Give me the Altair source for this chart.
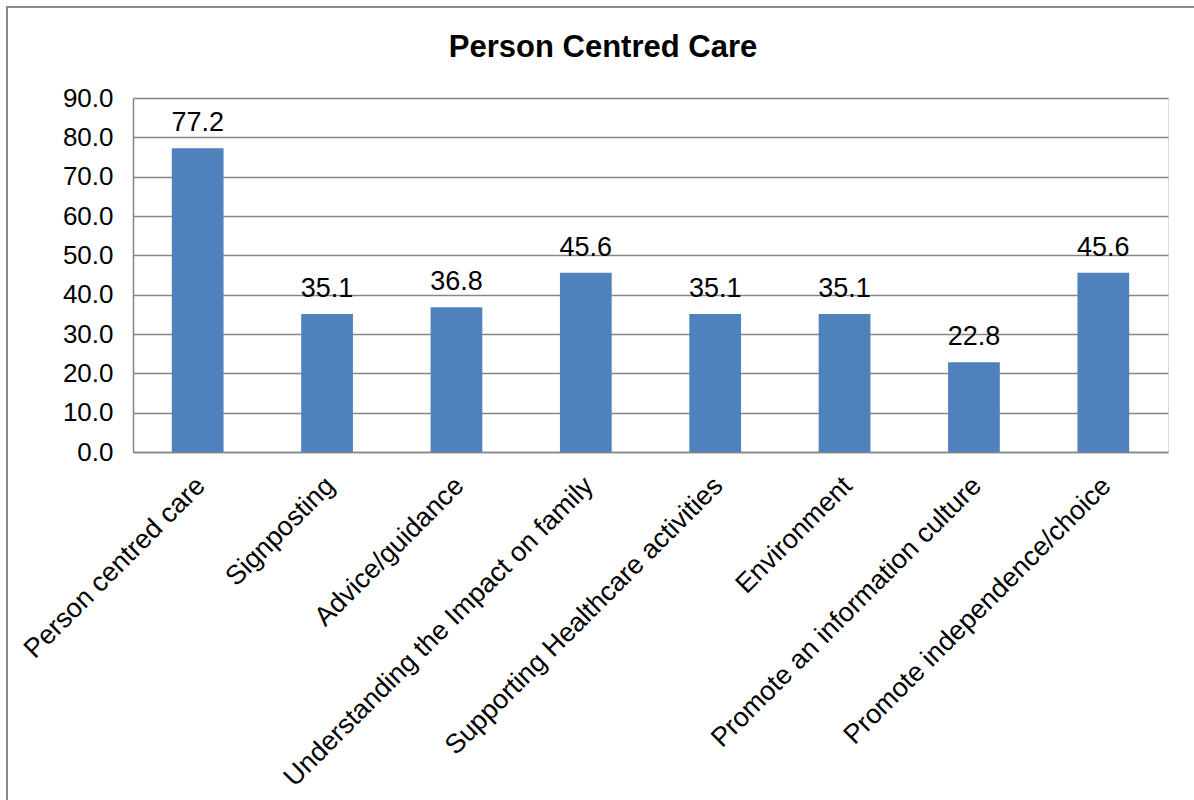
import altair as alt
import pandas as pd

# Survey results: share of responses per care theme (%)
title_text = "Person Centred Care"
categories = [
    "Person centred care",
    "Signposting",
    "Advice/guidance",
    "Understanding the Impact on family",
    "Supporting Healthcare activities",
    "Environment",
    "Promote an information culture",
    "Promote independence/choice",
]
values = [77.2, 35.1, 36.8, 45.6, 35.1, 35.1, 22.8, 45.6]
y_ticks = [0, 10, 20, 30, 40, 50, 60, 70, 80, 90]

df = pd.DataFrame({"category": categories, "value": values})
title_df = pd.DataFrame({"title": [title_text]})

FONT = "Liberation Sans"
GRID = "#868686"
BAR = "#4F81BD"

x_enc = alt.X(
    "category:N",
    sort=categories,
    scale=alt.Scale(paddingInner=0.6, paddingOuter=0.3),
    axis=alt.Axis(
        title=None,
        labelAngle=-45,
        labelAlign="right",
        labelBaseline="alphabetic",
        labelPadding=35,
        labelOffset=9,
        labelFont=FONT,
        labelFontSize=27,
        labelColor="black",
        labelLimit=0,
        labelOverlap=False,
        ticks=False,
        tickSize=0,
        domainColor=GRID,
        domainWidth=1.5,
        grid=False,
    ),
)
y_enc = alt.Y(
    "value:Q",
    scale=alt.Scale(domain=[0, 90], nice=False),
    axis=alt.Axis(
        title=None,
        values=y_ticks,
        format=".1f",
        labelFont=FONT,
        labelFontSize=26,
        labelColor="black",
        labelPadding=20,
        labelOverlap=False,
        ticks=False,
        tickSize=0,
        domainColor=GRID,
        domainWidth=1.5,
        grid=True,
        gridColor=GRID,
        gridWidth=1.5,
    ),
)

base = alt.Chart(df).encode(x=x_enc, y=y_enc)

bars = base.mark_bar(color=BAR)

labels = base.mark_text(
    font=FONT, fontSize=27, color="black", baseline="alphabetic", dy=-17
).encode(text=alt.Text("value:Q", format=".1f"))

# Chart title, centred over the whole framed area
title = alt.Chart(title_df).mark_text(
    font=FONT, fontSize=31, fontWeight="bold", color="black",
    align="center", baseline="alphabetic",
).encode(x=alt.value(470), y=alt.value(-41), text="title:N")

# Outer chart border
frame = alt.Chart(title_df).mark_rect(
    filled=False, stroke="#8a8a8a", strokeWidth=2
).encode(
    x=alt.value(-126), x2=alt.value(1070), y=alt.value(-91), y2=alt.value(720)
)

chart = (
    alt.layer(frame, bars, labels, title)
    .properties(
        width=1035,
        height=354,
        autosize=alt.AutoSizeParams(type="none"),
        padding={"left": 133, "top": 98, "right": 26, "bottom": 348},
    )
    .configure_view(stroke=None)
    .configure(background="white")
)

chart.save("out.html", embed_options={"renderer": "svg", "actions": False})
